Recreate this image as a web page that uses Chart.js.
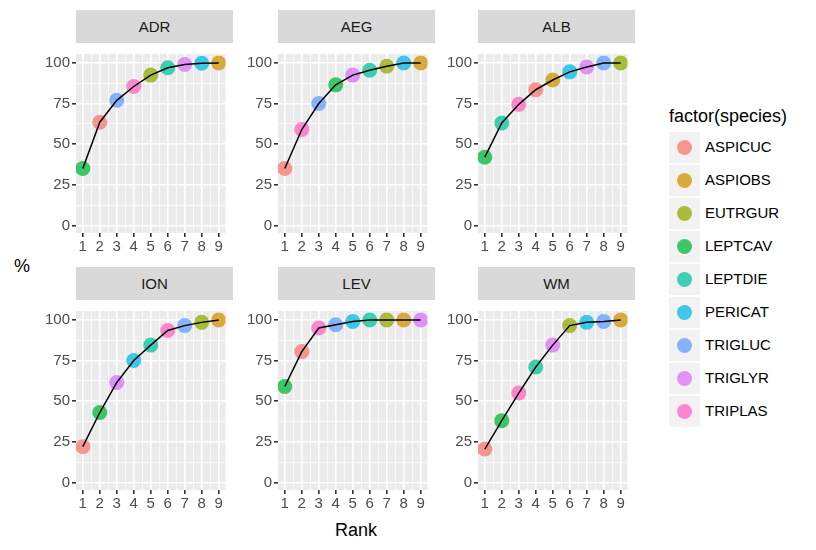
<!DOCTYPE html>
<html><head><meta charset="utf-8">
<script src="https://cdn.jsdelivr.net/npm/chart.js@4"></script>
<style>
body{margin:0;background:#fff;font-family:Arial,"Liberation Sans",sans-serif;}
#wrap{position:relative;width:816px;height:550px;}
.strip{position:absolute;background:#D9D9D9;color:#1A1A1A;font-size:15px;text-align:center;}
canvas{position:absolute;}
.lab{position:absolute;color:#000;}
.key{position:absolute;left:669px;width:31px;height:31px;background:#F2F2F2;}
.dot{position:absolute;left:8px;top:8px;width:15px;height:15px;border-radius:50%;}
.kt{position:absolute;left:705px;font-size:15px;color:#000;}
</style></head><body><div id="wrap"></div>
<script>
const ranks=[1,2,3,4,5,6,7,8,9];
const panels=["ADR","AEG","ALB","ION","LEV","WM"];
const speciesList=["ASPICUC","ASPIOBS","EUTRGUR","LEPTCAV","LEPTDIE","PERICAT","TRIGLUC","TRIGLYR","TRIPLAS"];
const speciesColors=["#F8766D","#D39200","#93AA00","#00BA38","#00C19F","#00B9E3","#619CFF","#DB72FB","#FF61C3"];
const yTicks=[0,25,50,75,100];
const ADR_sp=["LEPTCAV","ASPICUC","TRIGLUC","TRIPLAS","EUTRGUR","LEPTDIE","TRIGLYR","PERICAT","ASPIOBS"];
const ADR_val=[35,63.5,77,85.5,92.5,97,99,99.8,100];
const AEG_sp=["ASPICUC","TRIPLAS","TRIGLUC","LEPTCAV","TRIGLYR","LEPTDIE","EUTRGUR","PERICAT","ASPIOBS"];
const AEG_val=[35,59,75,86.5,92.5,95.5,98,100,100];
const ALB_sp=["LEPTCAV","LEPTDIE","TRIPLAS","ASPICUC","ASPIOBS","PERICAT","TRIGLYR","TRIGLUC","EUTRGUR"];
const ALB_val=[42,63,74.5,83.5,89.5,94.5,97.5,100,100];
const ION_sp=["ASPICUC","LEPTCAV","TRIGLYR","PERICAT","LEPTDIE","TRIPLAS","TRIGLUC","EUTRGUR","ASPIOBS"];
const ION_val=[22,43,61.5,75,84.5,93.5,96.5,98.5,100];
const LEV_sp=["LEPTCAV","ASPICUC","TRIPLAS","TRIGLUC","PERICAT","LEPTDIE","EUTRGUR","ASPIOBS","TRIGLYR"];
const LEV_val=[59,80.5,95,97,99,100,100,100,100];
const WM_sp=["ASPICUC","LEPTCAV","TRIPLAS","LEPTDIE","TRIGLYR","EUTRGUR","PERICAT","TRIGLUC","ASPIOBS"];
const WM_val=[20.5,38,55,71,84.5,96.5,98.5,99,100];
const panelData={ADR:[ADR_sp,ADR_val],AEG:[AEG_sp,AEG_val],ALB:[ALB_sp,ALB_val],ION:[ION_sp,ION_val],LEV:[LEV_sp,LEV_val],WM:[WM_sp,WM_val]};

const wrap=document.getElementById('wrap');
const colL=[76,278,478], PW=157, rowT=[10,267], SH=33, PH=190, YW=34, XH=26;
function hexA(h,a){const n=parseInt(h.slice(1),16);return `rgba(${n>>16},${(n>>8)&255},${n&255},${a})`;}
const bgPlugin={id:'bg',beforeDraw(c){const a=c.chartArea,x=c.ctx;x.save();x.fillStyle='#EBEBEB';x.fillRect(a.left,a.top,a.right-a.left,a.bottom-a.top);x.restore();}};

panels.forEach((p,i)=>{
  const L=colL[i%3], T=rowT[Math.floor(i/3)];
  const s=document.createElement('div');s.className='strip';
  Object.assign(s.style,{left:L+'px',top:T+'px',width:PW+'px',height:SH+'px',lineHeight:SH+'px'});
  s.textContent=p;wrap.appendChild(s);
  const cv=document.createElement('canvas');
  Object.assign(cv.style,{left:(L-YW)+'px',top:(T+SH)+'px',width:(PW+YW)+'px',height:(PH+XH)+'px'});
  cv.width=PW+YW;cv.height=PH+XH;wrap.appendChild(cv);
  const [sp,val]=panelData[p];
  const pts=ranks.map((r,k)=>({x:r,y:val[k]}));
  const cols=sp.map(n=>hexA(speciesColors[speciesList.indexOf(n)],0.75));
  new Chart(cv,{type:'scatter',
    data:{datasets:[
      {type:'line',data:pts,borderColor:'#000',borderWidth:1.5,pointRadius:0,fill:false,tension:0,order:0},
      {data:pts,pointRadius:7.5,pointHoverRadius:7.5,pointBackgroundColor:cols,pointBorderWidth:0,order:1}]},
    options:{responsive:false,animation:false,devicePixelRatio:1,
      layout:{padding:0},
      plugins:{legend:{display:false},tooltip:{enabled:false}},
      scales:{
        x:{type:'linear',min:0.6,max:9.4,afterFit(s){s.height=XH;},
          afterBuildTicks(s){const t=[];for(let v=1;v<=9;v+=0.5)t.push({value:v});s.ticks=t;},
          border:{display:false},
          grid:{color:'#FFFFFF',lineWidth:c=>Number.isInteger(c.tick.value)?1.6:0.7,drawTicks:true,tickLength:4,
            tickColor:c=>Number.isInteger(c.tick.value)?'#333':'rgba(0,0,0,0)'},
          ticks:{autoSkip:false,maxRotation:0,padding:1,color:'#4D4D4D',font:{size:15,family:'Arial'},
            callback:v=>Number.isInteger(v)?String(v):''}},
        y:{min:-4.7,max:105.5,afterFit(s){s.width=YW;},
          afterBuildTicks(s){const t=[];for(let v=0;v<=100;v+=12.5)t.push({value:v});s.ticks=t;},
          border:{display:false},
          grid:{color:'#FFFFFF',lineWidth:c=>yTicks.includes(c.tick.value)?1.6:0.7,drawTicks:true,tickLength:4,
            tickColor:c=>yTicks.includes(c.tick.value)?'#333':'rgba(0,0,0,0)'},
          ticks:{autoSkip:false,padding:2,color:'#4D4D4D',font:{size:15,family:'Arial'},
            callback:v=>yTicks.includes(v)?String(v):''}}}},
    plugins:[bgPlugin]});
});
function lab(t,x,y,sz){const d=document.createElement('div');d.className='lab';d.textContent=t;Object.assign(d.style,{left:x+'px',top:y+'px',fontSize:sz+'px'});wrap.appendChild(d);}
lab('%',14,256,18);
lab('Rank',335,520,18);
lab('factor(species)',669,106,18);
speciesList.forEach((n,k)=>{
  const y=132+k*33;
  const kd=document.createElement('div');kd.className='key';kd.style.top=y+'px';
  const d=document.createElement('div');d.className='dot';d.style.background=hexA(speciesColors[k],0.75);
  kd.appendChild(d);wrap.appendChild(kd);
  const t=document.createElement('div');t.className='kt';t.textContent=n;t.style.top=(y+6)+'px';wrap.appendChild(t);
});
</script></body></html>
